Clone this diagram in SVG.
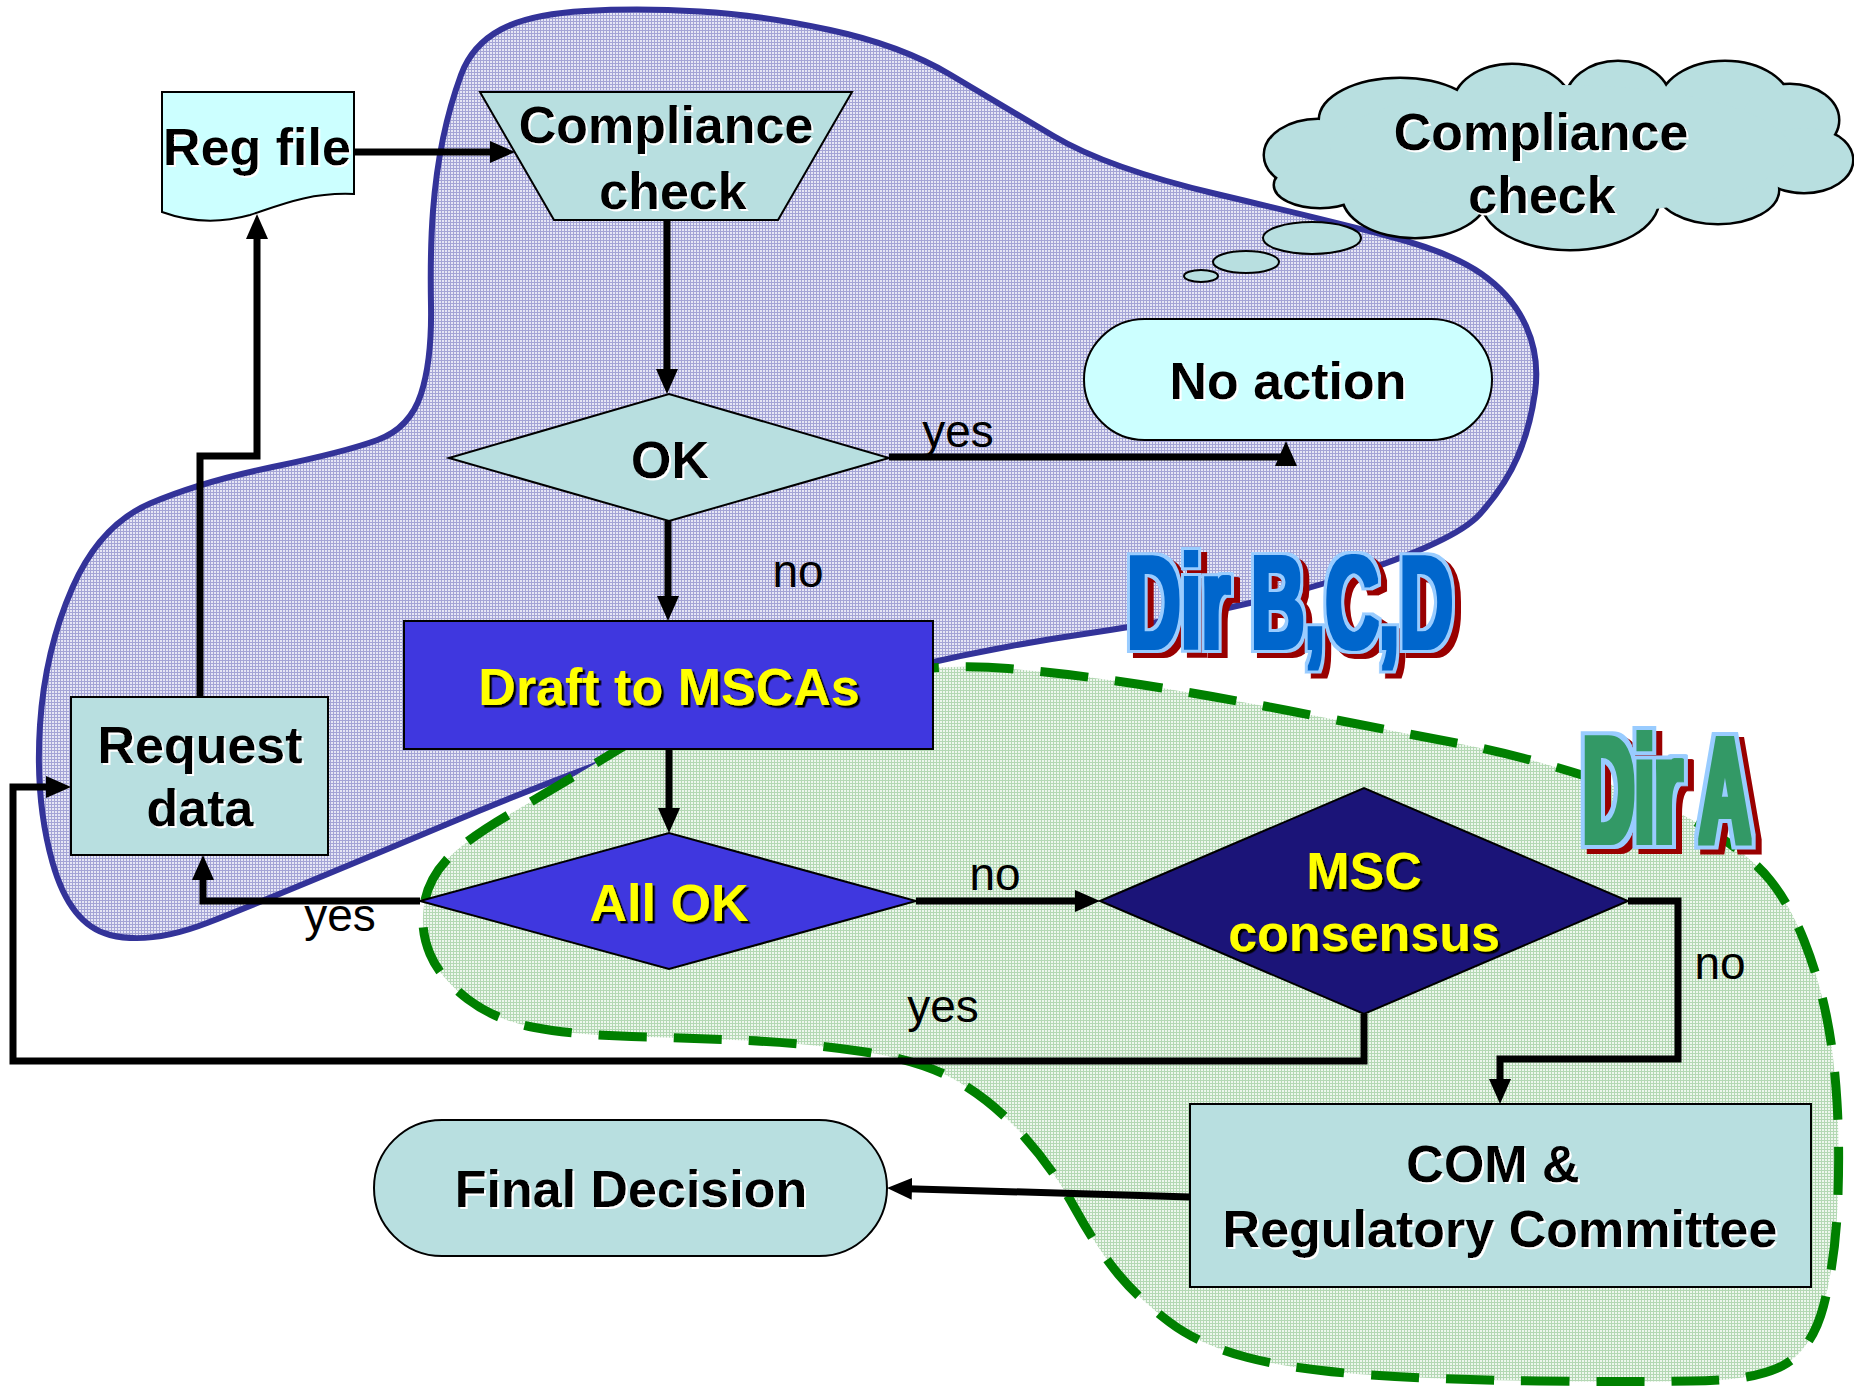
<svg xmlns="http://www.w3.org/2000/svg" width="1854" height="1387" viewBox="0 0 1854 1387">
<defs>
<style>
.lt{fill:#B8DFE0;stroke:#000;stroke-width:2}
.cy{fill:#CCFFFF;stroke:#000;stroke-width:2}
.bl{fill:#3F37DF;stroke:#000;stroke-width:2}
.t{font-family:"Liberation Sans",Arial,sans-serif;font-weight:bold;font-size:52px;text-anchor:middle;fill:#000}
.ty{fill:#FFFF00}
.lbl{font-family:"Liberation Sans",Arial,sans-serif;font-size:46px;text-anchor:middle;fill:#000}
.conn{fill:none;stroke:#000;stroke-width:7;stroke-linejoin:miter;marker-end:url(#ah)}
.wa{font-family:"Liberation Sans",Arial,sans-serif;font-weight:bold}
</style>
<pattern id="hb" width="3" height="3" patternUnits="userSpaceOnUse">
<rect width="3" height="3" fill="#E6E6F5"/>
<rect width="3" height="1" fill="#A4A4D6"/>
<rect width="1" height="3" fill="#A4A4D6"/>
</pattern>
<pattern id="hg" width="3" height="3" patternUnits="userSpaceOnUse">
<rect width="3" height="3" fill="#EEF7EE"/>
<rect width="3" height="1" fill="#B4D8B4"/>
<rect width="1" height="3" fill="#B4D8B4"/>
</pattern>
<marker id="ah" markerUnits="userSpaceOnUse" markerWidth="26" markerHeight="22" refX="13" refY="11" orient="auto">
<path d="M0,0 L25,11 L0,22 Z" fill="#000"/>
</marker>
<filter id="sw" x="-5%" y="-10%" width="115%" height="130%">
<feDropShadow dx="2" dy="2" stdDeviation="0" flood-color="#FFFFFF"/>
</filter>
<filter id="sk" x="-5%" y="-10%" width="115%" height="130%">
<feDropShadow dx="2.5" dy="2.5" stdDeviation="0" flood-color="#000000"/>
</filter>
<filter id="wab" x="-10%" y="-25%" width="125%" height="160%" color-interpolation-filters="sRGB">
<feMorphology in="SourceAlpha" operator="dilate" radius="2.7 1.5" result="fa"/>
<feMorphology in="SourceAlpha" operator="dilate" radius="8 4.5" result="oa"/>
<feFlood flood-color="#990000" result="c1"/>
<feComposite in="c1" in2="oa" operator="in" result="s0"/>
<feOffset in="s0" dx="10.7" dy="5" result="sh"/>
<feFlood flood-color="#99CCFF" result="c2"/>
<feComposite in="c2" in2="oa" operator="in" result="ol"/>
<feFlood flood-color="#0066CC" result="c3"/>
<feComposite in="c3" in2="fa" operator="in" result="fl"/>
<feMerge><feMergeNode in="sh"/><feMergeNode in="ol"/><feMergeNode in="fl"/></feMerge>
</filter>
<filter id="wag" x="-10%" y="-25%" width="130%" height="160%" color-interpolation-filters="sRGB">
<feMorphology in="SourceAlpha" operator="dilate" radius="6.4 3" result="fa"/>
<feMorphology in="SourceAlpha" operator="dilate" radius="13.8 6.5" result="oa"/>
<feFlood flood-color="#990000" result="c1"/>
<feComposite in="c1" in2="oa" operator="in" result="s0"/>
<feOffset in="s0" dx="12.7" dy="5" result="sh"/>
<feFlood flood-color="#99CCFF" result="c2"/>
<feComposite in="c2" in2="oa" operator="in" result="ol"/>
<feFlood flood-color="#339966" result="c3"/>
<feComposite in="c3" in2="fa" operator="in" result="fl"/>
<feMerge><feMergeNode in="sh"/><feMergeNode in="ol"/><feMergeNode in="fl"/></feMerge>
</filter>
</defs>

<g id="regions">
<path id="dir-bcd-region" fill="url(#hb)" stroke="#333399" stroke-width="6" d="M443,138.5 Q450,105 461,75 Q472,45 501,29.5 Q530,14 585,11 Q640,8 700,11.5 Q760,15 830,30 Q900,45 950,74.5 Q1000,104 1053.5,136 Q1107,168 1216.5,194 Q1326,220 1388,236 Q1450,252 1481,273.5 Q1512,295 1526,326 Q1540,357 1535,392.5 Q1530,428 1517.5,457 Q1505,486 1480,514 Q1455,542 1345,577 Q1235,612 1084,634 Q933,656 779.5,702.5 Q626,749 445,825 Q264,901 207,923 Q150,945 110,935 Q70,925 52.5,862.5 Q35,800 40,725 Q45,650 72.5,587.5 Q100,525 150,503.5 Q200,482 272.5,467 Q345,452 377.5,440 Q410,428 421,394 Q432,360 431,305 Q430,250 433,211 Q436,172 443,138.5 Z"/>
<path id="dir-a-region" fill="url(#hg)" stroke="#008000" stroke-width="9" stroke-dasharray="48 27" d="M816.5,681 Q933,662 1008,668.5 Q1083,675 1159,687.5 Q1235,700 1311,715 Q1387,730 1453.5,742.5 Q1520,755 1590,777.5 Q1660,800 1705,827.5 Q1750,855 1770,880 Q1790,905 1804,940.5 Q1818,976 1826,1014 Q1834,1052 1837,1102 Q1840,1152 1837.5,1207 Q1835,1262 1823.5,1306 Q1812,1350 1782,1366 Q1752,1381 1691,1381 Q1630,1382 1539,1381 Q1448,1380 1371.5,1375 Q1295,1370 1247.5,1357.5 Q1200,1345 1170,1322.5 Q1140,1300 1119,1275 Q1098,1250 1075,1208.5 Q1052,1167 1021.5,1133.5 Q991,1100 955.5,1080 Q920,1060 862,1051.5 Q804,1043 746.5,1040.5 Q689,1038 631.5,1036.5 Q574,1035 534.5,1027.5 Q495,1020 467.5,999 Q440,978 430,954 Q420,930 424,905 Q428,880 446.5,860 Q465,840 512.5,812.5 Q560,785 630,742.5 Q700,700 816.5,681 Z"/>
</g>

<g id="connectors">
<path class="conn" d="M354,152 H503"/>
<path class="conn" d="M667,220 V382"/>
<path class="conn" d="M889,457 H1286 V453"/>
<path class="conn" d="M668,521 V609"/>
<path class="conn" d="M669,749 V821"/>
<path class="conn" d="M420,901 H203 V867"/>
<path class="conn" d="M200,697 V456 H257 V226"/>
<path class="conn" d="M916,901 H1088"/>
<path class="conn" d="M1628,901 H1678 V1059 H1500 V1092"/>
<path class="conn" d="M1364,1014 V1061 H13 V787 H59"/>
<path class="conn" d="M1190,1197 L899,1188.4"/>
</g>

<g id="labels">
<text class="lbl" x="958" y="447">yes</text>
<text class="lbl" x="798" y="587">no</text>
<text class="lbl" x="995" y="890">no</text>
<text class="lbl" x="1720" y="979">no</text>
<text class="lbl" x="340" y="931">yes</text>
<text class="lbl" x="943" y="1022">yes</text>
</g>

<g id="reg-file">
<path class="cy" d="M162,92 H354 V194 C310,192 280,205 250,215 C225,222 195,224 162,212 Z"/>
<text class="t" x="257" y="165" filter="url(#sw)">Reg file</text>
</g>

<g id="compliance-check">
<path class="lt" d="M480,92 H852 L778,220 H554 Z"/>
<text class="t" x="666" y="143" filter="url(#sw)">Compliance</text>
<text class="t" x="673" y="209" filter="url(#sw)">check</text>
</g>

<g id="ok">
<path class="lt" d="M449,458 L669,394 L889,458 L669,521 Z"/>
<text class="t" x="670" y="478" filter="url(#sw)">OK</text>
</g>

<g id="no-action">
<rect class="cy" x="1084" y="319" width="408" height="121" rx="60.5" ry="60.5"/>
<text class="t" x="1288" y="399" filter="url(#sw)">No action</text>
</g>

<g id="thought-cloud">
<ellipse class="lt" cx="1201" cy="276" rx="17" ry="6"/>
<ellipse class="lt" cx="1246" cy="262" rx="33" ry="11"/>
<ellipse class="lt" cx="1312" cy="238" rx="49" ry="16"/>
<g stroke="#000" stroke-width="5" fill="#000">
<ellipse cx="1318" cy="155" rx="53" ry="35"/>
<ellipse cx="1400" cy="120" rx="80" ry="41"/>
<ellipse cx="1512" cy="105" rx="58" ry="40"/>
<ellipse cx="1618" cy="102" rx="52" ry="40"/>
<ellipse cx="1725" cy="105" rx="65" ry="43"/>
<ellipse cx="1790" cy="120" rx="48" ry="35"/>
<ellipse cx="1804" cy="160" rx="48" ry="32"/>
<ellipse cx="1718" cy="190" rx="60" ry="33"/>
<ellipse cx="1570" cy="200" rx="88" ry="49"/>
<ellipse cx="1415" cy="195" rx="72" ry="42"/>
<ellipse cx="1320" cy="185" rx="45" ry="22"/>
</g>
<g fill="#B8DFE0">
<ellipse cx="1318" cy="155" rx="53" ry="35"/>
<ellipse cx="1400" cy="120" rx="80" ry="41"/>
<ellipse cx="1512" cy="105" rx="58" ry="40"/>
<ellipse cx="1618" cy="102" rx="52" ry="40"/>
<ellipse cx="1725" cy="105" rx="65" ry="43"/>
<ellipse cx="1790" cy="120" rx="48" ry="35"/>
<ellipse cx="1804" cy="160" rx="48" ry="32"/>
<ellipse cx="1718" cy="190" rx="60" ry="33"/>
<ellipse cx="1570" cy="200" rx="88" ry="49"/>
<ellipse cx="1415" cy="195" rx="72" ry="42"/>
<ellipse cx="1320" cy="185" rx="45" ry="22"/>
<ellipse cx="1560" cy="150" rx="230" ry="65"/>
</g>
<text class="t" x="1541" y="150" filter="url(#sw)">Compliance</text>
<text class="t" x="1542" y="213" filter="url(#sw)">check</text>
</g>

<g id="draft-to-mscas">
<rect class="bl" x="404" y="621" width="529" height="128"/>
<text class="t ty" x="669" y="705" filter="url(#sk)">Draft to MSCAs</text>
</g>

<g id="request-data">
<rect class="lt" x="71" y="697" width="257" height="158"/>
<text class="t" x="200" y="763" filter="url(#sw)">Request</text>
<text class="t" x="200" y="826" filter="url(#sw)">data</text>
</g>

<g id="all-ok">
<path class="bl" d="M420,901 L669,833 L916,901 L669,969 Z"/>
<text class="t ty" x="669" y="921" filter="url(#sk)">All OK</text>
</g>

<g id="msc-consensus">
<path fill="#1B1478" stroke="#000" stroke-width="2" d="M1100,901 L1364,788 L1628,901 L1364,1014 Z"/>
<text class="t ty" x="1364" y="889" filter="url(#sk)">MSC</text>
<text class="t ty" x="1364" y="951" filter="url(#sk)">consensus</text>
</g>

<g id="com-regulatory-committee">
<rect class="lt" x="1190" y="1104" width="621" height="183"/>
<text class="t" x="1493" y="1182" filter="url(#sw)">COM &amp;</text>
<text class="t" x="1500" y="1247" filter="url(#sw)">Regulatory Committee</text>
</g>

<g id="final-decision">
<rect class="lt" x="374" y="1120" width="513" height="136" rx="68" ry="68"/>
<text class="t" x="631" y="1207" filter="url(#sw)">Final Decision</text>
</g>

<g id="region-titles">
<text class="wa" transform="matrix(0.563,0,0,1,1127,647.5)" font-size="132" fill="#0066CC" filter="url(#wab)">Dir B,C,D</text>
<text class="wa" transform="matrix(0.472,0,0,1,1583,841.5)" font-size="151" fill="#339966" filter="url(#wag)">Dir A</text>
</g>
</svg>
